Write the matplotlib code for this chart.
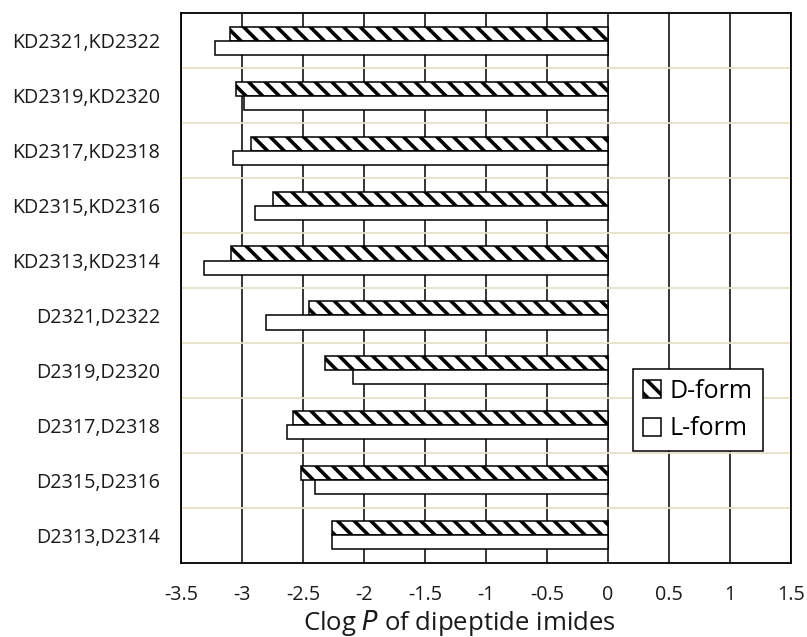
import matplotlib
matplotlib.use("Agg")
import matplotlib.pyplot as plt
import numpy as np

# Dipeptide imide pairs, bottom to top
categories = [
    "D2313,D2314", "D2315,D2316", "D2317,D2318", "D2319,D2320", "D2321,D2322",
    "KD2313,KD2314", "KD2315,KD2316", "KD2317,KD2318", "KD2319,KD2320", "KD2321,KD2322",
]
d_form = [-2.26, -2.52, -2.58, -2.32, -2.45, -3.09, -2.75, -2.93, -3.05, -3.10]
l_form = [-2.26, -2.40, -2.63, -2.09, -2.80, -3.31, -2.89, -3.07, -2.98, -3.22]
xticks = [-3.5, -3, -2.5, -2, -1.5, -1, -0.5, 0, 0.5, 1, 1.5]
xticklabels = ["-3.5", "-3", "-2.5", "-2", "-1.5", "-1", "-0.5", "0", "0.5", "1", "1.5"]

plt.rcParams["font.family"] = ["Open Sans", "DejaVu Sans"]
plt.rcParams["hatch.linewidth"] = 2.6

fig = plt.figure(figsize=(8.07, 6.37), dpi=100)
ax = fig.add_axes([181 / 807, 1 - 562.7 / 637, 610 / 807, 549.4 / 637])

y = np.arange(len(categories))
h = 0.255
off = 0.128
ax.barh(y + off, d_form, height=h, color="white", edgecolor="black",
        linewidth=1.1, hatch="\\\\", label="D-form", zorder=3)
ax.barh(y - off, l_form, height=h, color="white", edgecolor="black",
        linewidth=1.1, label="L-form", zorder=3)

# category separators
for b in y[:-1] + 0.5:
    ax.axhline(b, color="#e6e0c6", linewidth=1.3, zorder=1)

ax.set_xlim(-3.5, 1.5)
ax.set_ylim(-0.5, len(categories) - 0.5)
ax.set_xticks(xticks)
ax.set_xticklabels(xticklabels)
ax.set_yticks(y)
ax.set_yticklabels(categories)
ax.grid(axis="x", color="black", linewidth=1.1, zorder=2)
ax.set_axisbelow(True)
ax.tick_params(axis="both", length=0, labelsize=14.2, colors="#1a1a1a")
ax.tick_params(axis="x", pad=16)
ax.tick_params(axis="y", pad=15)
for s in ax.spines.values():
    s.set_linewidth(1.3)
    s.set_color("black")

fig.text(459 / 807, 7 / 637, "Clog $\\it{P}$ of dipeptide imides",
         ha="center", va="baseline", fontsize=18.5, color="#1a1a1a")

leg = ax.legend(loc="upper left", bbox_to_anchor=(0.741, 0.3526), borderaxespad=0,
                fontsize=18, handlelength=0.72, handleheight=0.72, handletextpad=0.35,
                fancybox=False, framealpha=1, edgecolor="black", borderpad=0.4,
                labelspacing=0.5)
leg.get_frame().set_linewidth(1.1)

fig.savefig("out.png", dpi=100)
